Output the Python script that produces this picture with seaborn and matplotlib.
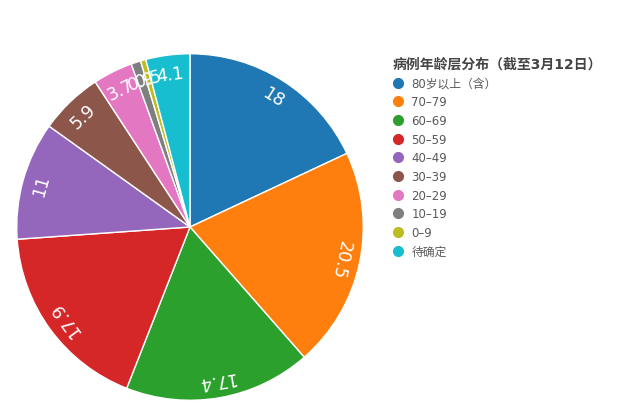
"""Age distribution of cases as a pie chart (seaborn palette + matplotlib pie)."""

import matplotlib
matplotlib.use("Agg")
import matplotlib.pyplot as plt
from matplotlib.lines import Line2D
import seaborn as sns

# data
age_groups = ["80岁以上（含）", "70–79", "60–69", "50–59", "40–49",
              "30–39", "20–29", "10–19", "0–9", "待确定"]
shares = [18, 20.5, 17.4, 17.9, 11, 5.9, 3.7, 0.9, 0.5, 4.1]
slice_labels = ["18", "20.5", "17.4", "17.9", "11", "5.9", "3.7", "0.9", "0.5", "4.1"]
legend_title = "病例年龄层分布（截至3月12日）"

sns.set_theme(style="white")
plt.rcParams["font.family"] = ["DejaVu Sans", "Noto Sans CJK SC"]

colors = sns.color_palette("tab10", len(shares))

fig = plt.figure(figsize=(6.34, 4.14), dpi=100)
W, H = 634, 414
# pie centre ~ (190, 228) px, radius ~175 px
ax = fig.add_axes([15 / W, (H - 403) / H, 350 / W, 350 / H])

wedges, texts = ax.pie(
    shares,
    labels=slice_labels,
    colors=colors,
    startangle=90,
    counterclock=False,
    labeldistance=0.89,
    wedgeprops=dict(edgecolor="white", linewidth=1.0),
    textprops=dict(color="white", fontsize=12.5),
)
ax.set_xlim(-1.01, 1.01)
ax.set_ylim(-1.01, 1.01)
ax.set_aspect("equal")

# labels rotated tangentially, top facing outward
for w, t in zip(wedges, texts):
    mid = (w.theta1 + w.theta2) / 2
    t.set_rotation(mid - 90)
    t.set_rotation_mode("anchor")
    t.set_ha("center")
    t.set_va("center")

handles = [Line2D([], [], marker="o", linestyle="", markersize=7,
                  markerfacecolor=c, markeredgecolor=c) for c in colors]
leg = fig.legend(
    handles, age_groups,
    title=legend_title,
    loc="upper left",
    bbox_to_anchor=(393 / W, 1 - 58 / H),
    frameon=False,
    fontsize=8.5,
    labelspacing=0.48,
    handlelength=0.8,
    handletextpad=0.75,
    borderaxespad=0,
    borderpad=0,
    alignment="left",
)
leg.get_title().set_fontsize(10)
leg.get_title().set_fontweight("bold")
leg.get_title().set_color("#444444")
for txt in leg.get_texts():
    txt.set_color("#595959")

fig.savefig("out.png", dpi=100)
